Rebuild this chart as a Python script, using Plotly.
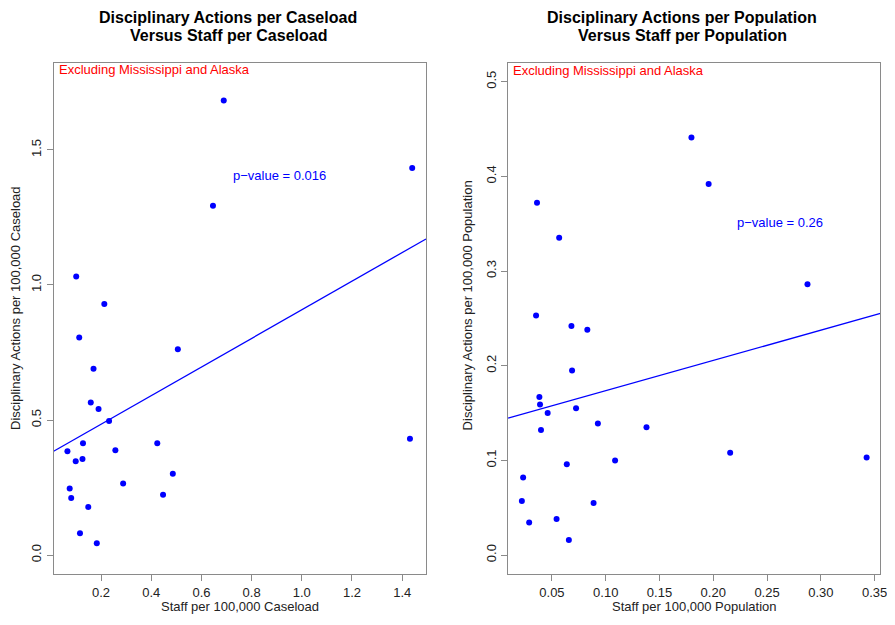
import numpy as np
import plotly.graph_objects as go

# Left panel: staff vs disciplinary actions per 100,000 caseload
case_staff = [0.689, 1.440, 0.646, 0.101, 0.213, 0.113, 0.506, 0.170, 0.159, 0.190,
              0.232, 0.128, 0.424, 0.066, 0.257, 0.126, 0.099, 1.431, 0.486, 0.288,
              0.075, 0.081, 0.447, 0.149, 0.116, 0.183]
case_disc = [1.683, 1.433, 1.293, 1.031, 0.930, 0.806, 0.762, 0.690, 0.565, 0.541,
             0.496, 0.414, 0.414, 0.384, 0.388, 0.356, 0.347, 0.431, 0.301, 0.265,
             0.247, 0.211, 0.223, 0.178, 0.081, 0.044]

# Right panel: staff vs disciplinary actions per 100,000 population
pop_staff = [0.1797, 0.1957, 0.0361, 0.0567, 0.2876, 0.0352, 0.0681, 0.0829, 0.0687,
             0.0383, 0.0389, 0.0460, 0.0724, 0.0398, 0.0927, 0.1379, 0.2157, 0.3426,
             0.1087, 0.0638, 0.0232, 0.0220, 0.0887, 0.0288, 0.0543, 0.0657]
pop_disc = [0.441, 0.392, 0.372, 0.335, 0.286, 0.253, 0.242, 0.238, 0.195,
            0.167, 0.159, 0.150, 0.155, 0.132, 0.139, 0.135, 0.108, 0.103,
            0.100, 0.096, 0.082, 0.057, 0.055, 0.0345, 0.038, 0.016]

left_xticks = [0.2, 0.4, 0.6, 0.8, 1.0, 1.2, 1.4]
left_yticks = [0.0, 0.5, 1.0, 1.5]
right_xticks = [0.05, 0.10, 0.15, 0.20, 0.25, 0.30, 0.35]
right_yticks = [0.0, 0.1, 0.2, 0.3, 0.4, 0.5]

left_title = ["Disciplinary Actions per Caseload", "Versus Staff per Caseload"]
right_title = ["Disciplinary Actions per Population", "Versus Staff per Population"]
p_left = "p\u2212value = 0.016"
p_right = "p\u2212value = 0.26"
note = "Excluding Mississippi and Alaska"

W, H = 895, 625
OFF = 8  # page body margin of the browser
FONT = "Liberation Sans, Arial, Helvetica, sans-serif"
BLUE = "#0000FF"


def px(x):
    return (x - OFF) / W


def py(y):
    return 1 - (y - OFF) / H


def r_range(v):
    lo, hi = min(v), max(v)
    d = (hi - lo) * 0.04
    return [lo - d, hi + d]


xr1 = r_range(case_staff)
yr1 = [-0.07, 1.823]
xr2 = r_range(pop_staff)
yr2 = [-0.020, 0.520]

fig = go.Figure()

for xs, ys, xa, ya, xr in [(case_staff, case_disc, "x", "y", xr1),
                           (pop_staff, pop_disc, "x2", "y2", xr2)]:
    fig.add_trace(go.Scatter(x=xs, y=ys, mode="markers", xaxis=xa, yaxis=ya,
                             marker=dict(color=BLUE, size=6, line=dict(width=0)),
                             showlegend=False, cliponaxis=False))
    b, a = np.polyfit(xs, ys, 1)
    lx = np.array(xr)
    fig.add_trace(go.Scatter(x=lx, y=a + b * lx, mode="lines", xaxis=xa, yaxis=ya,
                             line=dict(color=BLUE, width=1.3), showlegend=False))

ydom = [py(574), py(62.7)]
axis_common = dict(showgrid=False, zeroline=False, showline=True, mirror=True,
                   linecolor="#8a8a8a", linewidth=1, ticks="outside", ticklen=6,
                   tickcolor="#8a8a8a", tickfont=dict(family=FONT, size=13, color="#222"))

fig.update_layout(
    width=W, height=H, margin=dict(l=0, r=0, t=0, b=0),
    paper_bgcolor="white", plot_bgcolor="white",
    xaxis=dict(domain=[px(54), px(429.3)], range=xr1, tickvals=left_xticks,
               ticktext=[f"{v:.1f}" for v in left_xticks], anchor="y", **axis_common),
    yaxis=dict(domain=ydom, range=yr1, tickvals=left_yticks,
               ticktext=[f"{v:.1f}" for v in left_yticks], tickangle=-90, anchor="x",
               **axis_common),
    xaxis2=dict(domain=[px(512), px(887.3)], range=xr2, tickvals=right_xticks,
                ticktext=[f"{v:.2f}" for v in right_xticks], anchor="y2", **axis_common),
    yaxis2=dict(domain=ydom, range=yr2, tickvals=right_yticks,
                ticktext=[f"{v:.1f}" for v in right_yticks], tickangle=-90, anchor="x2",
                **axis_common),
)

ann = []


def txt(x, y, s, size=13, color="#222", bold=False, angle=0, xanchor="center"):
    ann.append(dict(x=px(x), y=py(y), xref="paper", yref="paper",
                    xanchor=xanchor, yanchor="middle", textangle=angle,
                    text=f"<b>{s}</b>" if bold else s, showarrow=False,
                    font=dict(family=FONT, size=size, color=color)))


# titles
txt(230, 17.5, left_title[0], size=16, color="black", bold=True)
txt(230, 35.5, left_title[1], size=16, color="black", bold=True)
txt(687.5, 17.5, right_title[0], size=16, color="black", bold=True)
txt(687.5, 35.5, right_title[1], size=16, color="black", bold=True)
# axis titles
txt(241.5, 606, "Staff per 100,000 Caseload")
txt(700, 606, "Staff per 100,000 Population")
txt(15, 308, "Disciplinary Actions per 100,000 Caseload", angle=-90)
txt(471, 305, "Disciplinary Actions per 100,000 Population", angle=-90)
# notes
txt(57, 70, note, color="#FF0000", xanchor="left")
txt(515, 70.5, note, color="#FF0000", xanchor="left")
fig.update_layout(annotations=ann)
fig.add_annotation(x=0.718, y=1.404, xref="x", yref="y", xanchor="left", yanchor="middle",
                   text=p_left, showarrow=False, font=dict(family=FONT, size=13, color=BLUE))
fig.add_annotation(x=0.2206, y=0.351, xref="x2", yref="y2", xanchor="left", yanchor="middle",
                   text=p_right, showarrow=False, font=dict(family=FONT, size=13, color=BLUE))

fig.write_html("out.html")
